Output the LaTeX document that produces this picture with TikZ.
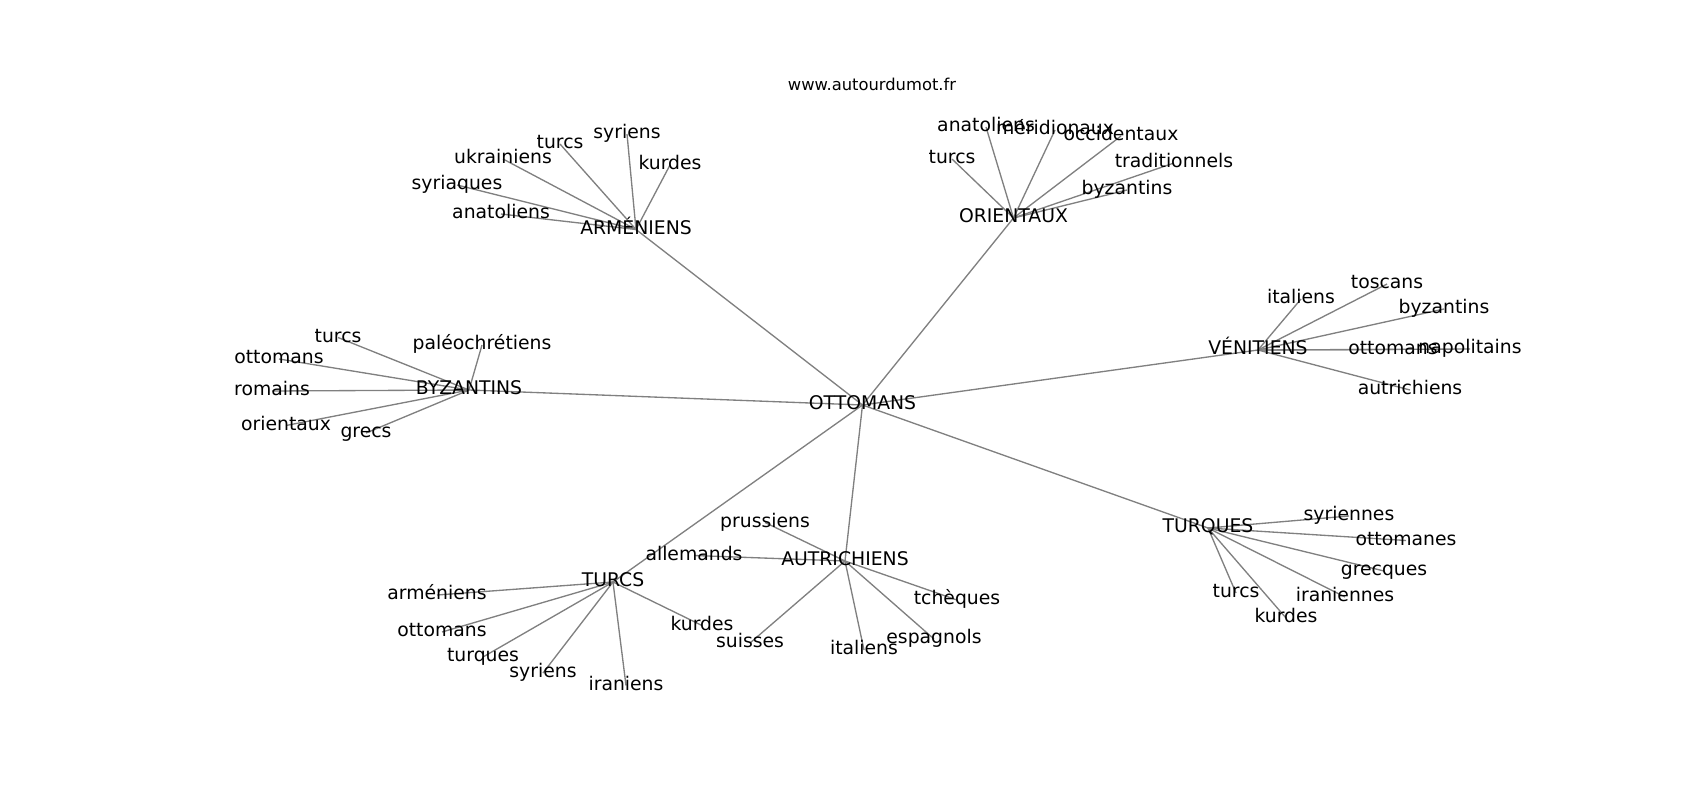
\documentclass[tikz,border=0pt]{standalone}
\usepackage{fontspec}
\setmainfont{DejaVu Sans}
\usetikzlibrary{backgrounds}

\tikzset{
  word/.style={inner sep=0pt, text height=0.92em, text depth=0.21em, font=\fontsize{14.1}{16}\selectfont},
  edge/.style={draw={rgb,255:red,128;green,128;blue,128}, line width=1pt}
}

\begin{document}
\begin{tikzpicture}[x=0.75pt,y=0.75pt,yscale=-1,xscale=1]
\useasboundingbox (0,0) rectangle (1700,800);

% Title
\node (title) at (872,84) [font=\fontsize{12.26}{14}\selectfont, inner sep=0pt] {www.autourdumot.fr};

% Centre
\node [word] (ott) at (862.5,405) {OTTOMANS};

% Hubs
\node [word] (arm) at (636,229.5) {ARMÉNIENS};
\node [word] (ori) at (1013.5,218) {ORIENTAUX};
\node [word] (ven) at (1258,350) {VÉNITIENS};
\node [word] (byz) at (469,390) {BYZANTINS};
\node [word] (trc) at (613,582) {TURCS};
\node [word] (aut) at (845,561) {AUTRICHIENS};
\node [word] (trq) at (1208,528) {TURQUES};

% ARMÉNIENS
\node [word] (arm1) at (560,144) {turcs};
\node [word] (arm2) at (627,134) {syriens};
\node [word] (arm3) at (670,165) {kurdes};
\node [word] (arm4) at (503,159) {ukrainiens};
\node [word] (arm5) at (457,185) {syriaques};
\node [word] (arm6) at (501,214) {anatoliens};

% ORIENTAUX
\node [word] (ori1) at (986,127) {anatoliens};
\node [word] (ori2) at (1055,130) {méridionaux};
\node [word] (ori3) at (1121,136) {occidentaux};
\node [word] (ori4) at (952,159) {turcs};
\node [word] (ori5) at (1174,163) {traditionnels};
\node [word] (ori6) at (1127,190) {byzantins};

% VÉNITIENS
\node [word] (ven1) at (1301,299) {italiens};
\node [word] (ven2) at (1387,284) {toscans};
\node [word] (ven3) at (1444,309) {byzantins};
\node [word] (ven4) at (1393,349.5) {ottomans};
\node [word] (ven5) at (1470,349) {napolitains};
\node [word] (ven6) at (1410,390) {autrichiens};

% BYZANTINS
\node [word] (byz1) at (338,337.5) {turcs};
\node [word] (byz2) at (482,345) {paléochrétiens};
\node [word] (byz3) at (279,359) {ottomans};
\node [word] (byz4) at (272,391) {romains};
\node [word] (byz5) at (286,425.5) {orientaux};
\node [word] (byz6) at (366,433) {grecs};

% TURCS
\node [word] (trc1) at (437,595) {arméniens};
\node [word] (trc2) at (442,632) {ottomans};
\node [word] (trc3) at (483,657) {turques};
\node [word] (trc4) at (543,673) {syriens};
\node [word] (trc5) at (626,685.5) {iraniens};
\node [word] (trc6) at (702,625.5) {kurdes};

% AUTRICHIENS
\node [word] (aut1) at (765,522.5) {prussiens};
\node [word] (aut2) at (694,555.5) {allemands};
\node [word] (aut3) at (957,600) {tchèques};
\node [word] (aut4) at (934,639) {espagnols};
\node [word] (aut5) at (864,650) {italiens};
\node [word] (aut6) at (750,643) {suisses};

% TURQUES
\node [word] (trq1) at (1349,516) {syriennes};
\node [word] (trq2) at (1406,540.5) {ottomanes};
\node [word] (trq3) at (1384,571) {grecques};
\node [word] (trq4) at (1345,597) {iraniennes};
\node [word] (trq5) at (1236,593) {turcs};
\node [word] (trq6) at (1286,618) {kurdes};

% Edges
\begin{scope}[on background layer]
\foreach \hub in {arm,ori,ven,byz,trc,aut,trq} {
  \draw [edge] (ott.center) -- (\hub.center);
  \foreach \i in {1,...,6}
    \draw [edge] (\hub.center) -- (\hub\i.center);
}
\end{scope}

\end{tikzpicture}
\end{document}
